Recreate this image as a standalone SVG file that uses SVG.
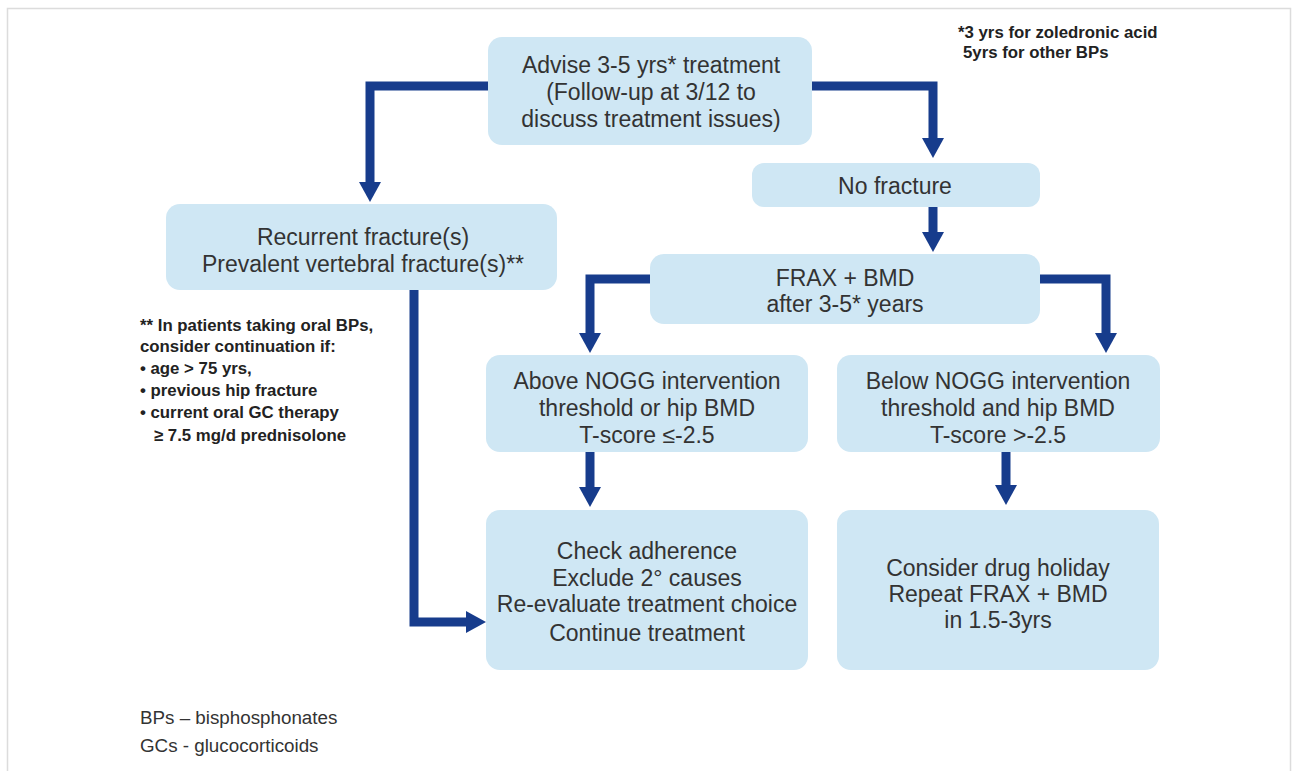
<svg xmlns="http://www.w3.org/2000/svg" width="1293" height="771" viewBox="0 0 1293 771">
<style>
.box{fill:#cfe7f4;}
.t{font-family:"Liberation Sans",Arial,sans-serif;font-size:23px;fill:#333;text-anchor:middle;}
.n{font-family:"Liberation Sans",Arial,sans-serif;font-size:16.8px;font-weight:bold;fill:#222;}
.l{font-family:"Liberation Sans",Arial,sans-serif;font-size:18.8px;fill:#333;}
.c{fill:none;stroke:#173c8c;stroke-width:9;stroke-linejoin:miter;marker-end:url(#ah);}
</style>
<defs>
<marker id="ah" markerUnits="userSpaceOnUse" markerWidth="20" markerHeight="22" viewBox="0 0 20 22" refX="0" refY="11" orient="auto">
<path d="M0,0 L20,11 L0,22 z" fill="#173c8c"/>
</marker>
</defs>
<rect x="0" y="0" width="1293" height="771" fill="#fff"/>
<rect x="7.5" y="8.5" width="1283" height="775" fill="none" stroke="#dcdcdc" stroke-width="1.5"/>

<g id="connectors">
<path class="c" d="M488,86 H370 V182"/>
<path class="c" d="M812,86 H933 V138"/>
<path class="c" d="M933,207 V232"/>
<path class="c" d="M650,279 H590 V333"/>
<path class="c" d="M1038,279 H1106 V333"/>
<path class="c" d="M590,452 V487"/>
<path class="c" d="M1006,452 V485"/>
<path class="c" d="M414,290 V622 H466"/>
</g>

<g id="advise">
<rect class="box" x="488" y="37" width="324" height="108" rx="14"/>
<text class="t" x="651" y="73">Advise 3-5 yrs* treatment</text>
<text class="t" x="651" y="100">(Follow-up at 3/12 to</text>
<text class="t" x="651" y="127">discuss treatment issues)</text>
</g>

<g id="nofracture">
<rect class="box" x="752" y="163" width="288" height="44" rx="12"/>
<text class="t" x="895" y="194">No fracture</text>
</g>

<g id="recurrent">
<rect class="box" x="166" y="204" width="391" height="86" rx="14"/>
<text class="t" x="363" y="245">Recurrent fracture(s)</text>
<text class="t" x="363" y="272">Prevalent vertebral fracture(s)**</text>
</g>

<g id="frax">
<rect class="box" x="650" y="254" width="390" height="70" rx="14"/>
<text class="t" x="845" y="286">FRAX + BMD</text>
<text class="t" x="845" y="312">after 3-5* years</text>
</g>

<g id="above">
<rect class="box" x="486" y="355" width="322" height="97" rx="14"/>
<text class="t" x="647" y="389">Above NOGG intervention</text>
<text class="t" x="647" y="416">threshold or hip BMD</text>
<text class="t" x="647" y="443">T-score ≤-2.5</text>
</g>

<g id="below">
<rect class="box" x="837" y="355" width="323" height="97" rx="14"/>
<text class="t" x="998" y="389">Below NOGG intervention</text>
<text class="t" x="998" y="416">threshold and hip BMD</text>
<text class="t" x="998" y="443">T-score &gt;-2.5</text>
</g>

<g id="check">
<rect class="box" x="486" y="510" width="322" height="160" rx="14"/>
<text class="t" x="647" y="559">Check adherence</text>
<text class="t" x="647" y="586">Exclude 2° causes</text>
<text class="t" x="647" y="612">Re-evaluate treatment choice</text>
<text class="t" x="647" y="641">Continue treatment</text>
</g>

<g id="holiday">
<rect class="box" x="837" y="510" width="322" height="160" rx="14"/>
<text class="t" x="998" y="576">Consider drug holiday</text>
<text class="t" x="998" y="602">Repeat FRAX + BMD</text>
<text class="t" x="998" y="628">in 1.5-3yrs</text>
</g>

<g id="note-top">
<text class="n" x="958" y="38">*3 yrs for zoledronic acid</text>
<text class="n" x="963" y="58">5yrs for other BPs</text>
</g>

<g id="note-left">
<text class="n" x="140" y="331">** In patients taking oral BPs,</text>
<text class="n" x="140" y="352">consider continuation if:</text>
<text class="n" x="140" y="374">•  age &gt; 75 yrs,</text>
<text class="n" x="140" y="396">•  previous hip fracture</text>
<text class="n" x="140" y="418">•  current oral GC therapy</text>
<text class="n" x="154" y="441">≥ 7.5 mg/d prednisolone</text>
</g>

<g id="legend">
<text class="l" x="140" y="724">BPs – bisphosphonates</text>
<text class="l" x="140" y="752">GCs - glucocorticoids</text>
</g>
</svg>
